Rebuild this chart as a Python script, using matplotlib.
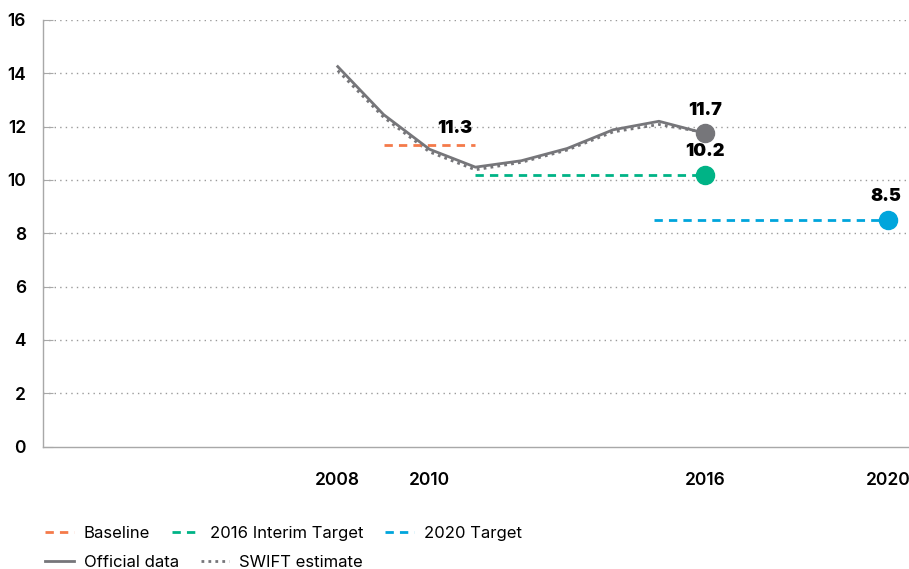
import matplotlib.pyplot as plt
from matplotlib.lines import Line2D

plt.rcParams['font.family'] = ['Inter', 'DejaVu Sans']

# ------------------------------------------------------------------ #
#                             the data                               #
# ------------------------------------------------------------------ #

years = [2008, 2009, 2010, 2011, 2012, 2013, 2014, 2015, 2016]
official = [14.25, 12.45, 11.15, 10.48, 10.72, 11.18, 11.88, 12.2, 11.75]
swift = [14.1, 12.35, 11.05, 10.38, 10.66, 11.12, 11.8, 12.08, 11.78]

baseline_years = [2009, 2011]
baseline_value = 11.3
interim_years = [2011, 2016]
interim_value = 10.2
target_years = [2014.9, 2020]
target_value = 8.5
official_last = 11.7

xticks = [2008, 2010, 2016, 2020]
yticks = [0, 2, 4, 6, 8, 10, 12, 14, 16]

c_gray = '#76767a'
c_base = '#f47a4a'
c_interim = '#00b386'
c_target = '#00a5dc'

# ------------------------------------------------------------------ #
#                              the plot                              #
# ------------------------------------------------------------------ #

fig = plt.figure(figsize=(9.09, 5.69), dpi=100)
ax = fig.add_axes([0.047, 0.215, 0.953, 0.75])

for y in yticks[1:]:
    ax.axhline(y, color='#9a9a9a', lw=1, ls=(0, (1, 3)), zorder=0)

ax.plot(years, official, color=c_gray, lw=2, solid_joinstyle='round', zorder=3)
ax.plot(years, swift, color=c_gray, lw=2, ls=(0, (1, 1.5)), zorder=2)

dash = (0, (3, 2.2))
ax.plot(baseline_years, [baseline_value] * 2, color=c_base, lw=2, ls=dash)
ax.plot(interim_years, [interim_value] * 2, color=c_interim, lw=2, ls=dash)
ax.plot(target_years, [target_value] * 2, color=c_target, lw=2, ls=dash)

ax.plot(years[-1], official[-1], 'o', ms=13, color=c_gray, zorder=4)
ax.plot(interim_years[-1], interim_value, 'o', ms=13, color=c_interim, zorder=4)
ax.plot(target_years[-1], target_value, 'o', ms=13, color=c_target, zorder=4)

lab = dict(ha='center', va='bottom', fontsize=13, fontweight='black', color='black')
ax.text(baseline_years[1] - 0.45, baseline_value + 0.3, '%.1f' % baseline_value, **lab)
ax.text(years[-1], official[-1] + 0.55, '%.1f' % official_last, **lab)
ax.text(interim_years[-1], interim_value + 0.55, '%.1f' % interim_value, **lab)
ax.text(target_years[-1] - 0.05, target_value + 0.55, '%.1f' % target_value, **lab)

ax.set_xlim(2001.57, 2020.45)
ax.set_ylim(0, 16)
ax.set_xticks(xticks)
ax.set_xticklabels([str(x) for x in xticks])
ax.set_yticks(yticks)

for s in ['top', 'right']:
    ax.spines[s].set_visible(False)
for s in ['left', 'bottom']:
    ax.spines[s].set_color('#a8a8a8')
    ax.spines[s].set_linewidth(1)

ax.tick_params(axis='x', length=0, pad=18, labelsize=12.5)
ax.tick_params(axis='y', direction='in', length=7, color='#a8a8a8', pad=12, labelsize=12.5)
for t in ax.get_xticklabels() + ax.get_yticklabels():
    t.set_fontweight('semibold')

# legends: two rows
leg_kw = dict(loc='center left', frameon=False, fontsize=12, handlelength=1.7,
              columnspacing=1.3, handletextpad=0.6, borderpad=0, borderaxespad=0)
h1 = [Line2D([], [], color=c_base, lw=2, ls=dash),
      Line2D([], [], color=c_interim, lw=2, ls=dash),
      Line2D([], [], color=c_target, lw=2, ls=dash)]
fig.legend(h1, ['Baseline', '2016 Interim Target', '2020 Target'],
           bbox_to_anchor=(0.05, 0.063), ncol=3, **leg_kw)
h2 = [Line2D([], [], color=c_gray, lw=2),
      Line2D([], [], color=c_gray, lw=2, ls=(0, (1, 1.5)))]
fig.legend(h2, ['Official data', 'SWIFT estimate'],
           bbox_to_anchor=(0.05, 0.012), ncol=2, **leg_kw)

fig.savefig('out.png', dpi=100)
plt.close()
